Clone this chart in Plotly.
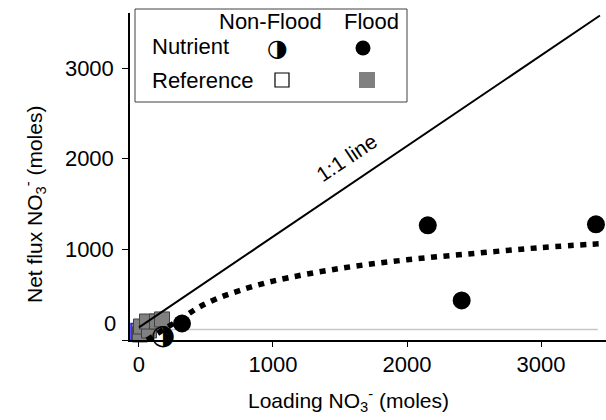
import plotly.graph_objects as go

# ---- data ----
flood_nut_x = [321, 2155, 2408, 3410]
flood_nut_y = [182, 1265, 436, 1276]
nonflood_nut_x = [179]
nonflood_nut_y = [28]
flood_ref_x = [7, 15, 75, 60, 134, 172]
flood_ref_y = [61, 149, 105, 204, 204, 227]
extra_ref_x = [0]
extra_ref_y = [94]
nonflood_ref_x = [45]
nonflood_ref_y = [72]
fit_x = [60, 200, 330, 440, 580, 750, 1000, 1500, 2000, 2500, 3000, 3480]
fit_y = [0, 130, 250, 355, 455, 545, 650, 790, 885, 955, 1020, 1065]
one_x = [0, 3440]
one_y = [140, 3580]
base_x = [0, 3425]
base_y = [116, 116]
x_ticks = [0, 1000, 2000, 3000]
y_ticks = [0, 1000, 2000, 3000]
y_ticktext = ["", "1000", "2000", "3000"]

W, H = 606, 420
L, R, T, B = 130, 0, 13, 80
PW, PH = W - L - R, H - T - B


def px(x):
    return (x - L) / PW


def py(y):
    return (H - B - y) / PH


FONT = "Liberation Sans, Arial, sans-serif"
SYM = "DejaVu Sans, sans-serif"

fig = go.Figure()
fig.add_trace(go.Scatter(x=base_x, y=base_y, mode="lines",
                         line=dict(color="#c8c8c8", width=1.5), cliponaxis=False))
fig.add_trace(go.Scatter(x=nonflood_ref_x, y=nonflood_ref_y, mode="markers",
                         marker=dict(symbol="square", size=15, color="white",
                                     line=dict(color="black", width=1)), cliponaxis=False))
fig.add_trace(go.Scatter(x=extra_ref_x, y=extra_ref_y, mode="markers",
                         marker=dict(symbol="square", size=16, color="#808080",
                                     line=dict(color="#2020ff", width=1.5)), cliponaxis=False))
fig.add_trace(go.Scatter(x=flood_ref_x, y=flood_ref_y, mode="markers",
                         marker=dict(symbol="square", size=15, color="#808080",
                                     line=dict(color="#404040", width=1)), cliponaxis=False))
fig.add_trace(go.Scatter(x=one_x, y=one_y, mode="lines",
                         line=dict(color="black", width=2), cliponaxis=False))
fig.add_trace(go.Scatter(x=fit_x, y=fit_y, mode="lines", line_shape="spline",
                         line=dict(color="black", width=5.5, dash="6px,6.5px"), cliponaxis=False))
fig.add_trace(go.Scatter(x=nonflood_nut_x, y=nonflood_nut_y, mode="text", text=["◑"],
                         textposition="middle center",
                         textfont=dict(family=SYM, size=28, color="black"), cliponaxis=False))
fig.add_trace(go.Scatter(x=flood_nut_x, y=flood_nut_y, mode="markers",
                         marker=dict(symbol="circle", size=18, color="black"), cliponaxis=False))


def note(x, y, text, size=22, family=FONT, xanchor="center", yanchor="middle", angle=0):
    return dict(x=px(x), y=py(y), xref="paper", yref="paper", text=text, showarrow=False,
                xanchor=xanchor, yanchor=yanchor, textangle=angle,
                font=dict(family=family, size=size, color="black"))


ann = [
    dict(x=1552, y=2010, xref="x", yref="y", text="1:1 line", showarrow=False,
         xanchor="center", yanchor="middle", textangle=-34,
         font=dict(family=FONT, size=21, color="black")),
    note(118, 323, "0", xanchor="right"),
    note(34, 205, "Net flux NO<sub>3</sub><sup>-</sup> (moles)", size=21, angle=-90),
    note(348, 400, "Loading NO<sub>3</sub><sup>-</sup> (moles)", size=21),
    note(270, 22, "Non-Flood"),
    note(371, 22, "Flood"),
    note(150, 47, "Nutrient", xanchor="left"),
    note(150, 80, "Reference", xanchor="left"),
    note(277, 48, "◑", size=24, family=SYM),
]

shapes = [
    dict(type="rect", xref="paper", yref="paper", x0=px(135), x1=px(407), y0=py(102), y1=py(9),
         line=dict(color="#404040", width=1), fillcolor="white", layer="below"),
    dict(type="circle", xref="paper", yref="paper", xsizemode="pixel", ysizemode="pixel",
         xanchor=px(363), yanchor=py(48), x0=-7.5, x1=7.5, y0=-7.5, y1=7.5,
         fillcolor="black", line=dict(color="black", width=0)),
    dict(type="rect", xref="paper", yref="paper", xsizemode="pixel", ysizemode="pixel",
         xanchor=px(282), yanchor=py(80), x0=-7, x1=7, y0=-7, y1=7,
         fillcolor="white", line=dict(color="black", width=1.2)),
    dict(type="rect", xref="paper", yref="paper", xsizemode="pixel", ysizemode="pixel",
         xanchor=px(367), yanchor=py(80), x0=-8, x1=8, y0=-8, y1=8,
         fillcolor="#808080", line=dict(color="#808080", width=0)),
]

fig.update_layout(
    width=W, height=H, margin=dict(l=L, r=R, t=T, b=B),
    plot_bgcolor="white", paper_bgcolor="white", showlegend=False,
    font=dict(family=FONT, size=22, color="black"),
    annotations=ann, shapes=shapes,
)
fig.update_xaxes(range=[-67, 3485], tickvals=x_ticks, showgrid=False, zeroline=False,
                 showline=True, linecolor="black", linewidth=1.5, ticks="outside",
                 ticklen=5, tickcolor="black", tickwidth=1, tickfont=dict(size=22),
                 ticklabelstandoff=-1)
fig.update_yaxes(range=[0, 3608], tickvals=y_ticks, ticktext=y_ticktext, showgrid=False,
                 zeroline=False, showline=True, linecolor="black", linewidth=1.5,
                 ticks="outside", ticklen=6, tickcolor="black", tickwidth=1,
                 tickfont=dict(size=22), ticklabelstandoff=4)

fig.write_html("out.html", config={"displayModeBar": False},
               post_script="document.body.style.margin='0px';")
